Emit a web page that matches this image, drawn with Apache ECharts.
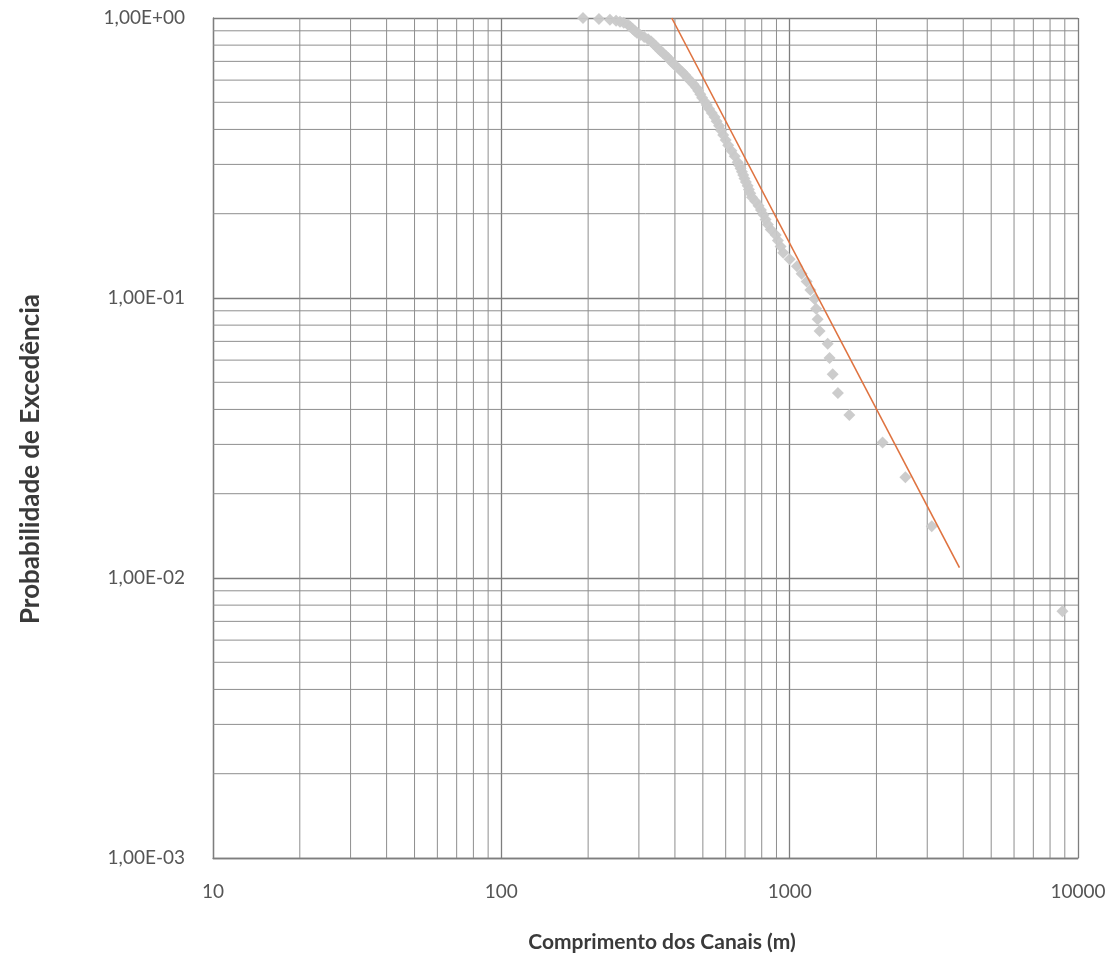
<!DOCTYPE html>
<html>
<head>
<meta charset="utf-8">
<script src="https://cdn.jsdelivr.net/npm/echarts@6/dist/echarts.min.js"></script>
<style>
html,body{margin:0;padding:0;background:#fff;}
#c{width:1111px;height:973px;}
</style>
</head>
<body>
<div id="c"></div>
<script>
// Observed data: channel length (m) and exceedance probability
const lengths = [8830,3110,2520,2100,1610,1470,1410,1375,1355,1270,1250,1235,1220,1180,1145,1100,1060,1000,950,930,
  910,895,860,840,825,812,795,780,760,740,730,722,715,705,697,690,683,676,668,660,
  645,628,612,600,588,578,569,558,549,537,526,516,506,497,490,482,474,464,453,443,
  434,424,414,404,395,387,380,372,364,356,350,343,337,331,323,313,303,295,290,285,
  280,275,266,258,250,238,218,192];
const probs = [0.0076,0.0153,0.0229,0.0305,0.0382,0.0458,0.0534,0.0611,0.0687,0.0763,0.0840,0.0916,0.0992,0.1069,0.1145,0.1221,0.1298,0.1374,0.1450,0.1527,
  0.1603,0.1679,0.1756,0.1832,0.1908,0.1985,0.2061,0.2137,0.2214,0.2290,0.2366,0.2443,0.2519,0.2595,0.2672,0.2748,0.2824,0.2901,0.2977,0.3053,
  0.3206,0.3359,0.3511,0.3664,0.3817,0.3969,0.4122,0.4275,0.4427,0.4580,0.4733,0.4885,0.5038,0.5191,0.5344,0.5496,0.5649,0.5802,0.5954,0.6107,
  0.6260,0.6412,0.6565,0.6718,0.6870,0.7023,0.7176,0.7328,0.7481,0.7634,0.7786,0.7939,0.8092,0.8244,0.8397,0.8550,0.8702,0.8855,0.9008,0.9160,
  0.9313,0.9466,0.9618,0.9695,0.9771,0.9847,0.9924,1.0000];
// Fitted power-law line endpoints
const fitX = [390, 3880];
const fitY = [1.0, 0.0109];
// Axis ranges and minor grid values
const xRange = [10, 10000];
const yRange = [0.001, 1];
const minorX = [20,30,40,50,60,70,80,90,200,300,400,500,600,700,800,900,2000,3000,4000,5000,6000,7000,8000,9000];
const minorY = [0.002,0.003,0.004,0.005,0.006,0.007,0.008,0.009,0.02,0.03,0.04,0.05,0.06,0.07,0.08,0.09,0.2,0.3,0.4,0.5,0.6,0.7,0.8,0.9];
const xTitle = 'Comprimento dos Canais (m)';
const yTitle = 'Probabilidade de Excedência';

const scatterData = lengths.map((x,i)=>[x, probs[i]]);
const fitData = fitX.map((x,i)=>[x, fitY[i]]);
const gridData = minorX.map(v=>[v, yRange[0], 0]).concat(minorY.map(v=>[xRange[0], v, 1]));

const FONT = 'Lato, "Open Sans", sans-serif';
const GRID_COLOR = '#8e8e8e';
const chart = echarts.init(document.getElementById('c'), null, {renderer:'canvas'});
chart.setOption({
  backgroundColor:'#ffffff',
  animation:false,
  grid:{left:213, top:18, width:865, height:840, containLabel:false},
  xAxis:{
    type:'log', logBase:10, min:xRange[0], max:xRange[1],
    axisLine:{show:true, lineStyle:{color:'#7e7e7e', width:1.3}},
    axisTick:{show:false},
    axisLabel:{fontFamily:FONT, fontSize:19, color:'#555', margin:24,
      formatter:v=>String(Math.round(v))},
    splitLine:{show:true, lineStyle:{color:'#7e7e7e', width:1.3}}
  },
  yAxis:{
    type:'log', logBase:10, min:yRange[0], max:yRange[1],
    axisLine:{show:true, lineStyle:{color:'#7e7e7e', width:1.3}},
    axisTick:{show:false},
    axisLabel:{fontFamily:FONT, fontSize:19, color:'#555', margin:28,
      formatter:v=>{const e=Math.round(Math.log10(v)); return '1,00E'+(e<0?'-':'+')+String(Math.abs(e)).padStart(2,'0');}},
    splitLine:{show:true, lineStyle:{color:'#7e7e7e', width:1.3}}
  },
  graphic:[
    {type:'text', x:662, y:942, style:{text:xTitle, fontFamily:FONT, fontSize:21, fontWeight:'bold', fill:'#3a3a3a', align:'center', verticalAlign:'middle'}},
    {type:'text', x:31, y:459, rotation:Math.PI/2, style:{text:yTitle, fontFamily:FONT, fontSize:26, fontWeight:'bold', fill:'#3a3a3a', align:'center', verticalAlign:'middle'}}
  ],
  series:[
    {type:'custom', data:gridData, z:1, silent:true, clip:true,
     encode:{x:0, y:1},
     renderItem:(params, api)=>{
       const kind = api.value(2);
       let p1, p2;
       if (kind === 0) { p1 = api.coord([api.value(0), yRange[0]]); p2 = api.coord([api.value(0), yRange[1]]); }
       else { p1 = api.coord([xRange[0], api.value(1)]); p2 = api.coord([xRange[1], api.value(1)]); }
       return {type:'line', shape:{x1:p1[0], y1:p1[1], x2:p2[0], y2:p2[1]},
         style:{stroke:GRID_COLOR, lineWidth:1}};
     }},
    {type:'scatter', data:scatterData, z:2, symbol:'diamond', symbolSize:[12,12],
     itemStyle:{color:'#c9c9c9', opacity:0.95}},
    {type:'line', data:fitData, z:3, showSymbol:false, symbol:'none',
     lineStyle:{color:'#df7340', width:1.6}}
  ]
});
</script>
</body>
</html>
